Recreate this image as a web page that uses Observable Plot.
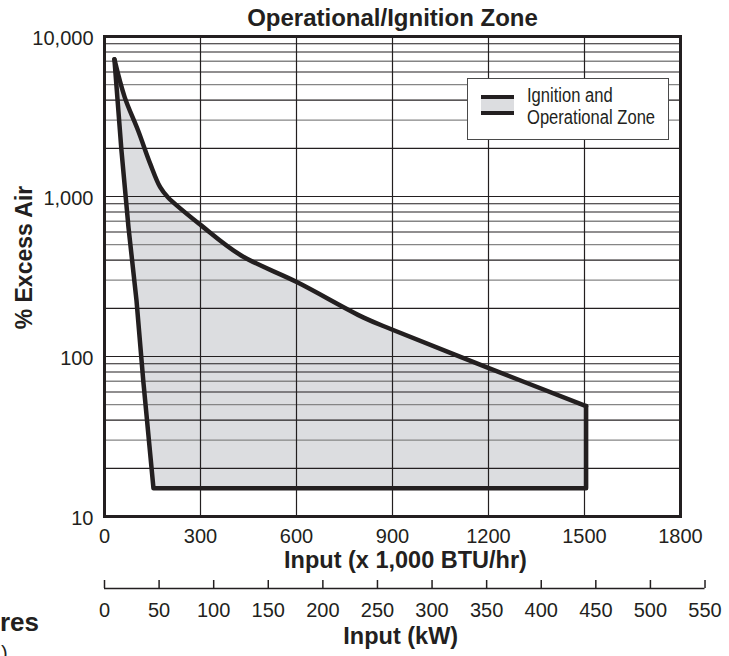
<!DOCTYPE html>
<html>
<head>
<meta charset="utf-8">
<script src="https://cdn.jsdelivr.net/npm/d3@7"></script>
<script src="https://cdn.jsdelivr.net/npm/@observablehq/plot@0.6"></script>
<style>
  html, body { margin: 0; padding: 0; background: #fff; }
  #wrap { position: relative; width: 729px; height: 656px; overflow: hidden; font-family: "Liberation Sans", Arial, Helvetica, sans-serif; color: #231f20; }
  #wrap svg { display: block; }
  #legend { position: absolute; left: 467px; top: 78px; width: 200px; height: 60px; border: 1.5px solid #4a4a4a; background: #fff; }
  #legend .sw { position: absolute; left: 13px; top: 16px; width: 33px; height: 12px; background: #dcdde0; border-top: 4px solid #231f20; border-bottom: 4px solid #231f20; }
  #legend .tx { position: absolute; left: 59px; top: 5px; font-family: "Liberation Sans", Arial, sans-serif; font-size: 19.5px; line-height: 22px; color: #231f20; white-space: nowrap; transform: scaleX(0.85); transform-origin: left top; }
  .cut1 { position: absolute; left: 0px; top: 607px; font-weight: bold; font-size: 26px; }
  .cut2 { position: absolute; left: 1px; top: 642px; font-size: 20px; }
</style>
</head>
<body>
<div id="wrap"></div>
<script>
// ---- data ----
const inputTicks = [0, 300, 600, 900, 1200, 1500, 1800];     // x 1,000 BTU/hr
const airTicks = [10, 100, 1000, 10000];                      // % excess air
const kwTicks = [0, 50, 100, 150, 200, 250, 300, 350, 400, 450, 500, 550];
const upperInput = [31, 63, 105, 143, 174, 198, 302, 427, 604, 810, 900, 1199, 1505];
const upperAir   = [7200, 4180, 2585, 1600, 1143, 990, 660, 428, 290, 175, 147, 85, 49];
const lowerInput = [1505, 1505, 153, 121, 100, 75, 53, 31];
const lowerAir   = [49, 15, 15, 71, 224, 640, 1940, 7200];
const BTU_PER_KW = 3.412; // thousand BTU/hr per kW

const upper = upperInput.map((x, i) => ({input: x, air: upperAir[i]}));
const lower = lowerInput.map((x, i) => ({input: x, air: lowerAir[i]}));
const zone = [...upper, ...lower.slice(1)];

const ink = "#231f20";
const font = "'Liberation Sans', Arial, Helvetica, sans-serif";

const minor = [10, 100, 1000].flatMap(d => [2,3,4,5,6,7,8,9].map(k => ({k, v: k * d})));
const gridDark = minor.filter(m => ![3,5,7].includes(m.k)).map(m => m.v).concat([100, 1000]);
const gridGray = minor.filter(m => [3,5,7].includes(m.k)).map(m => m.v);

const main = Plot.plot({
  width: 729,
  height: 575,
  marginLeft: 104,
  marginRight: 49,
  marginTop: 36,
  marginBottom: 59,
  style: {fontFamily: font, fontSize: "20px", color: ink, background: "transparent", overflow: "visible"},
  x: {domain: [0, 1800]},
  y: {type: "log", domain: [10, 10000]},
  marks: [
    Plot.line(zone, {x: "input", y: "air", fill: "#dcdde0", stroke: "none"}),
    Plot.ruleY(gridGray, {stroke: "#858585", strokeWidth: 1.4}),
    Plot.ruleY(gridDark, {stroke: ink, strokeWidth: 1.1}),
    Plot.ruleX(inputTicks.slice(1, -1), {stroke: ink, strokeWidth: 1.2}),
    Plot.line(upper, {x: "input", y: "air", curve: "catmull-rom", stroke: ink, strokeWidth: 4.5, strokeLinejoin: "round", strokeLinecap: "round"}),
    Plot.line(lower, {x: "input", y: "air", stroke: ink, strokeWidth: 4.5, strokeLinejoin: "round", strokeLinecap: "round"}),
    Plot.frame({stroke: ink, strokeWidth: 3}),
    Plot.axisY(airTicks, {tickSize: 0, tickPadding: 11, dy: 2, tickFormat: d3.format(","), label: null, fontSize: 20}),
    Plot.axisX(inputTicks, {tickSize: 0, tickPadding: 12, tickFormat: d3.format("d"), label: null, fontSize: 20}),
    Plot.text(["Operational/Ignition Zone"], {frameAnchor: "top", dy: -18, lineAnchor: "middle", textAnchor: "middle", fontWeight: "bold", fontSize: 24, fill: ink}),
    Plot.text(["% Excess Air"], {frameAnchor: "left", rotate: -90, dx: -80, dy: -19, lineAnchor: "middle", textAnchor: "middle", fontWeight: "bold", fontSize: 23, fill: ink}),
    Plot.text(["Input (x 1,000 BTU/hr)"], {frameAnchor: "bottom", dx: 13, dy: 44, lineAnchor: "middle", textAnchor: "middle", fontWeight: "bold", fontSize: 23.5, fill: ink})
  ]
});

const kw = Plot.plot({
  width: 729,
  height: 81,
  marginLeft: 104,
  marginRight: 729 - (104 + 550 * BTU_PER_KW * (576 / 1800)),
  marginTop: 5,
  marginBottom: 68,
  style: {fontFamily: font, fontSize: "20px", color: ink, background: "transparent", overflow: "visible"},
  x: {domain: [0, 550]},
  y: {domain: [0, 1], axis: null},
  marks: [
    Plot.ruleY([0], {stroke: ink, strokeWidth: 1.5}),
    Plot.tickX(kwTicks, {x: d => d, stroke: ink, strokeWidth: 1.5}),
    Plot.axisX(kwTicks, {tickSize: 0, tickPadding: 14, label: null, fontSize: 20}),
    Plot.text(["Input (kW)"], {frameAnchor: "bottom", dx: -4, dy: 48, lineAnchor: "middle", textAnchor: "middle", fontWeight: "bold", fontSize: 23.5, fill: ink})
  ]
});

const wrap = document.getElementById("wrap");
wrap.appendChild(main);
wrap.appendChild(kw);

const legend = document.createElement("div");
legend.id = "legend";
legend.innerHTML = '<div class="sw"></div><div class="tx">Ignition and<br>Operational Zone</div>';
wrap.appendChild(legend);

const c1 = document.createElement("div"); c1.className = "cut1"; c1.textContent = "res"; wrap.appendChild(c1);
const c2 = document.createElement("div"); c2.className = "cut2"; c2.textContent = ")"; wrap.appendChild(c2);
</script>
</body>
</html>
